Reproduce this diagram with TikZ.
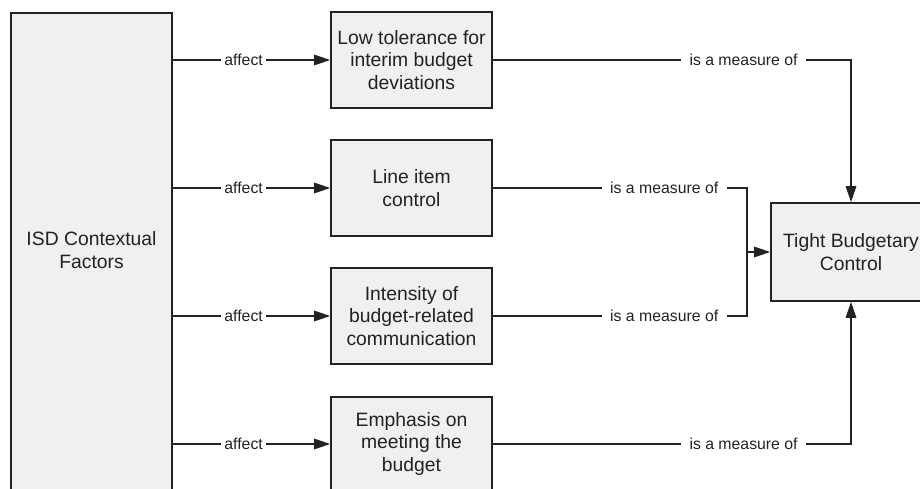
\documentclass[tikz,border=0pt]{standalone}
\usepackage{fontspec}
\setmainfont{Liberation Sans}
\usepackage{tikz}
\usetikzlibrary{
    arrows.meta,
    calc
}

\definecolor{boxfill}{HTML}{F0F0F0}
\definecolor{inkgray}{HTML}{222222}

\tikzset{
    block/.style={draw=inkgray, line width=0.95pt, fill=boxfill, text=inkgray,
        inner sep=0pt, align=center, font=\fontsize{11}{12.8}\selectfont},
    blocktext/.style={text=inkgray, inner sep=0pt, align=center,
        font=\fontsize{11}{12.8}\selectfont},
    line/.style={draw=inkgray, line width=0.85pt},
    link/.style={line, -{Triangle[length=3.2mm,width=2.1mm]}},
    affectlabel/.style={fill=white, text=inkgray, inner xsep=0.07cm, inner ysep=1pt,
        font=\fontsize{9}{10}\selectfont},
    measurelabel/.style={fill=white, text=inkgray, inner xsep=0.17cm, inner ysep=1pt,
        font=\fontsize{9}{10}\selectfont}
}

\begin{document}
\begin{tikzpicture}

\useasboundingbox (0,0) rectangle (18.4,9.76);
\clip (0,0) rectangle (18.4,9.76);

% Contextual factors (runs off the page at the bottom)
\node[block, minimum width=3.22cm, minimum height=10.4cm, anchor=north] (isd) at (1.83,9.52) {};
\node[blocktext] (isdtext) at (1.83,4.76) {ISD Contextual\\Factors};

% Middle column
\node[block, minimum width=3.22cm, minimum height=1.92cm] (tolerance) at (8.23,8.56)
    {Low tolerance for\\interim budget\\deviations};
\node[block, minimum width=3.22cm, minimum height=1.92cm] (lineitem) at (8.23,6.00)
    {Line item\\control};
\node[block, minimum width=3.22cm, minimum height=1.92cm] (intensity) at (8.23,3.44)
    {Intensity of\\budget-related\\communication};
% last one runs off the page too
\node[block, minimum width=3.22cm, minimum height=2.4cm, anchor=north] (emphasis) at (8.23,1.84) {};
\node[blocktext] (emphasistext) at (8.23,0.88) {Emphasis on\\meeting the\\budget};

% Outcome (runs off the page on the right)
\node[block, minimum width=3.2cm, minimum height=1.96cm] (tight) at (17.02,4.72)
    {Tight Budgetary\\Control};

% affect arrows
\foreach \target in {tolerance, lineitem, intensity, emphasistext} {
    \draw[link] (isd.east |- \target) -- node[affectlabel, pos=0.45] {affect} (emphasis.west |- \target);
}

% is a measure of
\coordinate (merge) at (14.94,4.72);
\draw[link] (tolerance.east) -| node[measurelabel, pos=0.35] {is a measure of} (tight.north);
\draw[link] (emphasis.east |- emphasistext) -| node[measurelabel, pos=0.35] {is a measure of} (tight.south);
\draw[line] (lineitem.east) -| node[measurelabel, pos=0.337] {is a measure of} (merge);
\draw[line] (intensity.east) -| node[measurelabel, pos=0.337] {is a measure of} (merge);
\draw[link] (merge) -- (tight.west);

\end{tikzpicture}
\end{document}
